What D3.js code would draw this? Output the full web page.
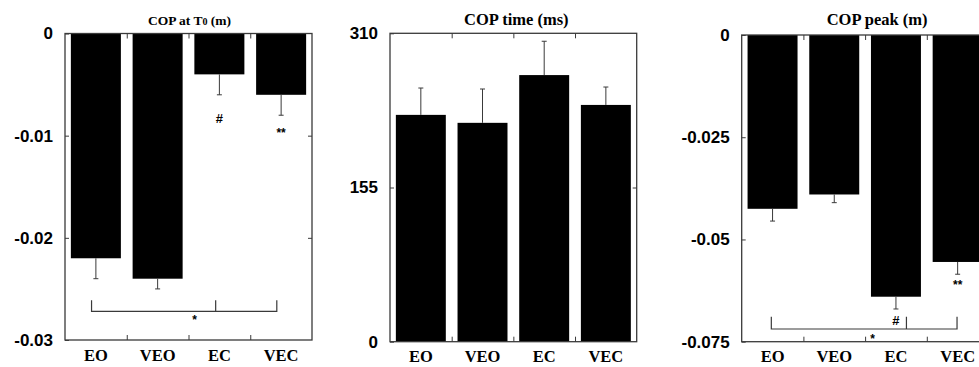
<!DOCTYPE html>
<html>
<head>
<meta charset="utf-8">
<script src="https://cdn.jsdelivr.net/npm/d3@7"></script>
<style>
  body { margin: 0; background: #fff; }
  svg { display: block; }
</style>
</head>
<body>
<svg id="chart" width="979" height="367"></svg>
<script>
// conditions shared by all three panels
const conditions = ["EO", "VEO", "EC", "VEC"];

// COP at T0 (m)
const copT0 = [-0.022, -0.024, -0.004, -0.006];
const copT0Err = [0.002, 0.001, 0.002, 0.002];
const copT0Ticks = [0, -0.01, -0.02, -0.03];

// COP time (ms)
const copTime = [228, 220, 268, 238];
const copTimeErr = [27, 34, 34, 18];
const copTimeTicks = [0, 155, 310];

// COP peak (m)
const copPeak = [-0.0425, -0.039, -0.064, -0.0555];
const copPeakErr = [0.003, 0.002, 0.003, 0.003];
const copPeakTicks = [0, -0.025, -0.05, -0.075];

// significance marks: position as (category index, value)
const t0Marks = [{i: 2, v: -0.0083, t: "#"}, {i: 3, v: -0.0094, t: "**"}, {i: 1.6, v: -0.0277, t: "*"}];
const t0Bracket = {from: -0.07, mid: 1.94, to: 2.93, v: -0.0272, top: -0.0261};
const peakMarks = [{i: 2, v: -0.0697, t: "#"}, {i: 3, v: -0.0604, t: "**"}, {i: 1.62, v: -0.0737, t: "*"}];
const peakBracket = {from: -0.02, mid: 2.17, to: 2.99, v: -0.0719, top: -0.0689};

const svg = d3.select("#chart");
const stroke = "#3a3a3a";

function drawPanel(p) {
  const g = svg.append("g");
  const x = d3.scaleBand().domain(conditions).range([p.left, p.right]).paddingInner(0.19).paddingOuter(0.095);
  // fractional category index -> pixel (for annotations)
  const xi = d3.scaleLinear().domain([0, 1]).range([x(conditions[0]) + x.bandwidth() / 2, x(conditions[1]) + x.bandwidth() / 2]);
  const xb = d3.scaleLinear().domain([0, conditions.length]).range([p.left, p.right]);
  const y = d3.scaleLinear().domain(p.domain).range([p.bottom, p.top]);
  const base = y(0);

  // bars
  g.selectAll("rect.bar").data(p.values).enter().append("rect")
    .attr("class", "bar")
    .attr("x", (d, i) => x(conditions[i]))
    .attr("width", x.bandwidth())
    .attr("y", d => Math.min(y(d), base))
    .attr("height", d => Math.abs(y(d) - base))
    .attr("fill", "#000");

  // error bars (one-sided)
  const errEnd = (d, i) => y(d + Math.sign(d) * p.errs[i]);
  const cx = (d, i) => x(conditions[i]) + x.bandwidth() / 2;
  g.selectAll("line.err").data(p.values).enter().append("line")
    .attr("x1", cx).attr("x2", cx)
    .attr("y1", d => y(d)).attr("y2", errEnd)
    .attr("stroke", stroke).attr("stroke-width", 1);
  g.selectAll("line.cap").data(p.values).enter().append("line")
    .attr("x1", (d, i) => cx(d, i) - 2.5).attr("x2", (d, i) => cx(d, i) + 2.5)
    .attr("y1", errEnd).attr("y2", errEnd)
    .attr("stroke", stroke).attr("stroke-width", 1);

  // frame
  g.append("rect")
    .attr("x", p.left).attr("y", p.top)
    .attr("width", p.right - p.left).attr("height", p.bottom - p.top)
    .attr("fill", "none").attr("stroke", stroke).attr("stroke-width", 1.3);

  // axes with inward ticks
  const left = g.append("g").attr("transform", `translate(${p.left},0)`)
    .call(d3.axisLeft(y).tickValues(p.ticks).tickFormat(d => String(d)).tickSize(-4).tickSizeOuter(0).tickPadding(12));
  left.select(".domain").remove();
  left.selectAll("text")
    .attr("font-family", "'Liberation Sans', Arial, sans-serif")
    .attr("font-weight", "bold").attr("font-size", 17).attr("fill", "#000");

  const right = g.append("g").attr("transform", `translate(${p.right},0)`)
    .call(d3.axisRight(y).tickValues(p.ticks.slice(1, -1)).tickFormat("").tickSize(-4).tickSizeOuter(0));
  right.select(".domain").remove();

  const inner = d3.range(1, conditions.length);
  const bottom = g.append("g").attr("transform", `translate(0,${p.bottom})`)
    .call(d3.axisBottom(xb).tickValues(inner).tickFormat("").tickSize(-5).tickSizeOuter(0));
  bottom.select(".domain").remove();
  const top = g.append("g").attr("transform", `translate(0,${p.top})`)
    .call(d3.axisTop(xb).tickValues(inner).tickFormat("").tickSize(-5).tickSizeOuter(0));
  top.select(".domain").remove();
  g.selectAll(".tick line").attr("stroke", stroke);

  // category labels
  const labels = g.append("g").attr("transform", `translate(0,${p.bottom})`)
    .call(d3.axisBottom(x).tickSize(0).tickPadding(9));
  labels.select(".domain").remove();
  labels.selectAll("text")
    .attr("font-family", "'Liberation Serif', 'Times New Roman', serif")
    .attr("font-weight", "bold").attr("font-size", 16.5).attr("fill", "#000");

  // title
  const title = g.append("text")
    .attr("x", (p.left + p.right) / 2 + (p.titleDx || 0)).attr("y", 25)
    .attr("text-anchor", "middle")
    .attr("font-family", "'Liberation Serif', 'Times New Roman', serif")
    .attr("font-weight", "bold").attr("font-size", p.titleSize);
  p.title.forEach(part => {
    title.append("tspan").text(part.t).attr("font-size", part.small ? 10 : null);
  });

  // significance bracket
  if (p.bracket) {
    const b = p.bracket;
    const path = d3.path();
    path.moveTo(xi(b.from), y(b.top));
    path.lineTo(xi(b.from), y(b.v));
    path.lineTo(xi(b.to), y(b.v));
    path.lineTo(xi(b.to), y(b.top));
    path.moveTo(xi(b.mid), y(b.top));
    path.lineTo(xi(b.mid), y(b.v));
    g.append("path").attr("d", path.toString())
      .attr("fill", "none").attr("stroke", stroke).attr("stroke-width", 1.2);
  }
  if (p.marks) {
    g.selectAll("text.mark").data(p.marks).enter().append("text")
      .attr("x", d => xi(d.i))
      .attr("y", d => y(d.v) + (d.t === "#" ? 4.5 : 7))
      .attr("text-anchor", "middle")
      .attr("font-family", "'Liberation Sans', Arial, sans-serif")
      .attr("font-weight", "bold").attr("font-size", d => d.t === "#" ? 13 : 12)
      .text(d => d.t);
  }
}

drawPanel({
  left: 65, right: 312, top: 33.5, bottom: 340,
  domain: [-0.03, 0], values: copT0, errs: copT0Err, ticks: copT0Ticks,
  title: [{t: "COP at T"}, {t: "0", small: true}, {t: " (m)"}], titleDx: 1, titleSize: 13.5,
  marks: t0Marks, bracket: t0Bracket
});
drawPanel({
  left: 390, right: 636.7, top: 33.3, bottom: 341.7,
  domain: [0, 310], values: copTime, errs: copTimeErr, ticks: copTimeTicks,
  title: [{t: "COP time (ms)"}], titleDx: 3, titleSize: 16.5
});
drawPanel({
  left: 741.7, right: 988.5, top: 35, bottom: 341.7,
  domain: [-0.075, 0], values: copPeak, errs: copPeakErr, ticks: copPeakTicks,
  title: [{t: "COP peak (m)"}], titleDx: 12, titleSize: 16.5,
  marks: peakMarks, bracket: peakBracket
});
</script>
</body>
</html>
